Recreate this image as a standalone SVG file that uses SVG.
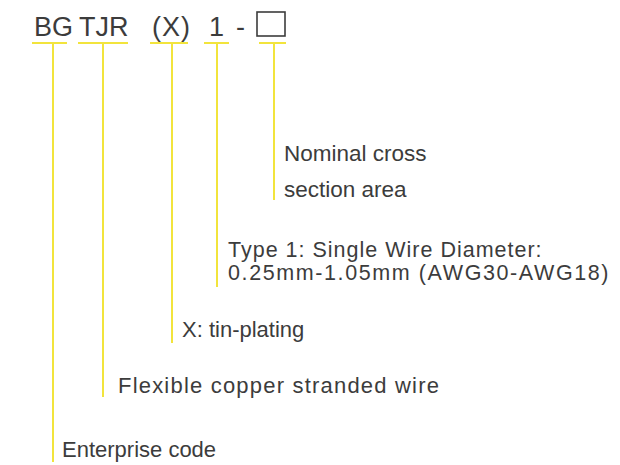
<svg xmlns="http://www.w3.org/2000/svg" width="620" height="465" viewBox="0 0 620 465">
<style>
.t{font-family:"Liberation Sans",Arial,Helvetica,sans-serif;fill:#3c3c3c}
.h{font-size:27px}
.l{font-size:22px}
.y{stroke:#f2e43c;stroke-width:2;fill:none}
</style>
<rect width="620" height="465" fill="#ffffff"/>
<g id="header">
<text class="t h" x="34" y="36">BG</text>
<text class="t h" x="79" y="36">TJR</text>
<text class="t h" x="152" y="36" letter-spacing="1">(X)</text>
<text class="t h" x="209" y="36">1</text>
<text class="t h" x="236" y="36">-</text>
<rect x="257" y="12" width="28" height="24" fill="none" stroke="#3c3c3c" stroke-width="1.6"/>
</g>
<g id="connectors" class="y">
<line x1="32" y1="43" x2="67" y2="43"/>
<line x1="78" y1="43" x2="128" y2="43"/>
<line x1="150" y1="43" x2="188" y2="43"/>
<line x1="204" y1="43" x2="229" y2="43"/>
<line x1="259" y1="43" x2="286" y2="43"/>
<line x1="53" y1="43" x2="53" y2="462"/>
<line x1="103" y1="43" x2="103" y2="397"/>
<line x1="172" y1="43" x2="172" y2="343"/>
<line x1="217" y1="43" x2="217" y2="287"/>
<line x1="274" y1="43" x2="274" y2="200"/>
</g>
<g id="node-area">
<text class="t" x="284" y="161" font-size="22.5">Nominal cross</text>
<text class="t" x="284" y="197" font-size="22.5">section area</text>
</g>
<g id="node-type">
<text class="t" x="228" y="257" font-size="21.5" letter-spacing="1">Type 1: Single Wire Diameter:</text>
<text class="t" x="228" y="280" font-size="21.5" letter-spacing="1.6">0.25mm-1.05mm (AWG30-AWG18)</text>
</g>
<g id="node-tin">
<text class="t l" x="182" y="337">X: tin-plating</text>
</g>
<g id="node-flex">
<text class="t l" x="118" y="393" letter-spacing="1.2">Flexible copper stranded wire</text>
</g>
<g id="node-enterprise">
<text class="t l" x="62" y="457">Enterprise code</text>
</g>
</svg>
